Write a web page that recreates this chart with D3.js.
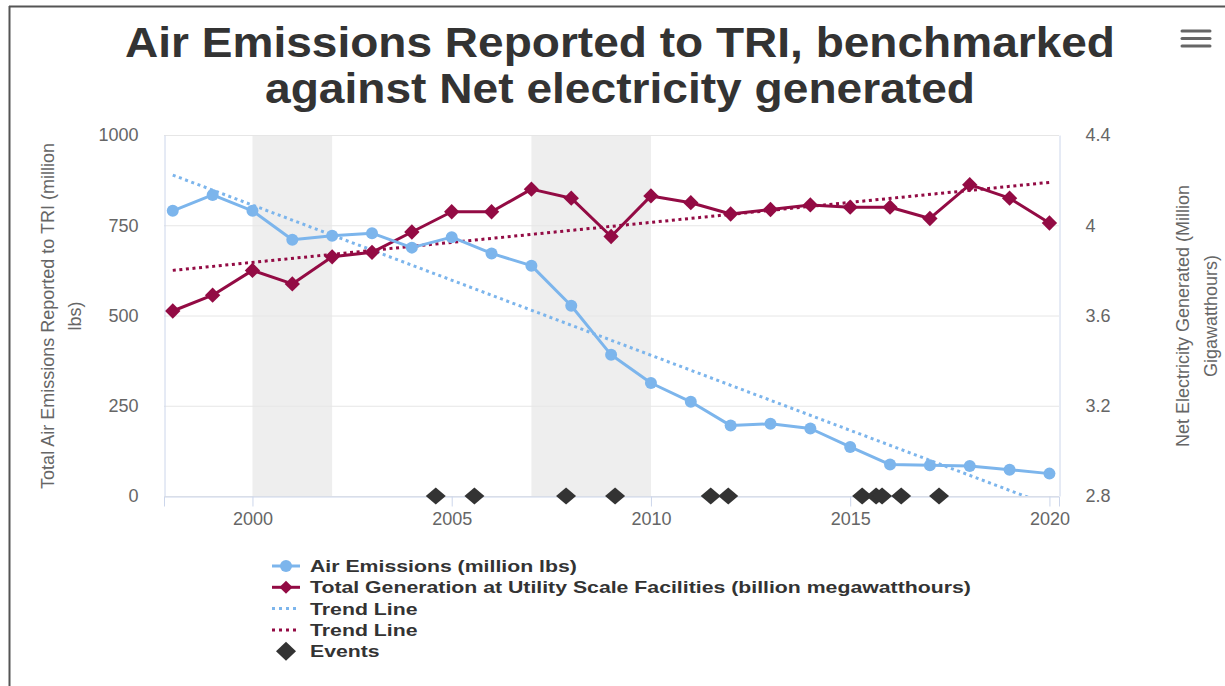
<!DOCTYPE html>
<html>
<head>
<meta charset="utf-8">
<script src="https://cdn.jsdelivr.net/npm/d3@7"></script>
<style>
  html, body { margin: 0; padding: 0; background: #fff; }
  svg { display: block; font-family: "Liberation Sans", Arial, Helvetica, sans-serif; }
</style>
</head>
<body>
<svg id="chart" width="1225" height="686"></svg>
<script>
// data
var years = [1998, 1999, 2000, 2001, 2002, 2003, 2004, 2005, 2006, 2007, 2008, 2009,
             2010, 2011, 2012, 2013, 2014, 2015, 2016, 2017, 2018, 2019, 2020];
var airEmissions = [790, 834, 790, 710, 721, 728, 688, 717, 672, 638, 527, 391,
                    313, 261, 195, 200, 187, 136, 87, 85, 83, 73, 62];
var generation = [3.62, 3.69, 3.80, 3.74, 3.86, 3.88, 3.97, 4.06, 4.06, 4.16, 4.12, 3.95,
                  4.13, 4.10, 4.05, 4.07, 4.09, 4.08, 4.08, 4.03, 4.18, 4.12, 4.01];
var trendYears = [1998, 2020];
var airTrend = [889, -26];
var genTrend = [3.80, 4.19];
var eventDates = [2004.6, 2005.57, 2007.87, 2009.1, 2011.5, 2011.94,
                  2015.3, 2015.65, 2015.8, 2016.28, 2017.23];
var bands = [[2000, 2002], [2007, 2010]];
var xTicks = [2000, 2005, 2010, 2015, 2020];
var leftTicks = [0, 250, 500, 750, 1000];
var rightTicks = [2.8, 3.2, 3.6, 4, 4.4];
var legendItems = ["Air Emissions (million lbs)",
                   "Total Generation at Utility Scale Facilities (billion megawatthours)",
                   "Trend Line", "Trend Line", "Events"];

var blue = "#7cb5ec", red = "#930b44", dark = "#333333";

var svg = d3.select("#chart");
var plot = {left: 164, right: 1059, top: 135, bottom: 496};

var x = d3.scaleLinear().domain([1997.78, 2020.24]).range([plot.left, plot.right]);
var yL = d3.scaleLinear().domain([0, 1000]).range([plot.bottom, plot.top]);
var yR = d3.scaleLinear().domain([2.8, 4.4]).range([plot.bottom, plot.top]);

// widen text a bit, the reference glyphs are broader than ours
function stretch(sel, k){
    sel.each(function(){
        var w = this.getComputedTextLength();
        d3.select(this).attr("textLength", w * k).attr("lengthAdjust", "spacingAndGlyphs");
    });
}

// frame of the screenshot
svg.append("line").attr("x1", 9).attr("x2", 1225).attr("y1", 6.5).attr("y2", 6.5)
    .attr("stroke", "#555").attr("stroke-width", 2);
svg.append("line").attr("x1", 9.5).attr("x2", 9.5).attr("y1", 6).attr("y2", 686)
    .attr("stroke", "#555").attr("stroke-width", 2);

// title
var title = svg.append("text").attr("text-anchor", "middle").attr("fill", dark)
    .attr("font-size", 43).attr("font-weight", "bold");
var t1 = title.append("tspan").attr("x", 620).attr("y", 57).text("Air Emissions Reported to TRI, benchmarked");
var t2 = title.append("tspan").attr("x", 620).attr("y", 103).text("against Net electricity generated");
t1.attr("textLength", 990).attr("lengthAdjust", "spacingAndGlyphs");
t2.attr("textLength", 710).attr("lengthAdjust", "spacingAndGlyphs");

// menu icon
[31, 38.5, 46].forEach(function(yy){
    svg.append("line").attr("x1", 1182).attr("x2", 1210).attr("y1", yy).attr("y2", yy)
        .attr("stroke", "#666").attr("stroke-width", 3).attr("stroke-linecap", "round");
});

// plot bands
svg.selectAll(".band").data(bands).enter().append("rect")
    .attr("x", function(d){ return x(d[0]); })
    .attr("width", function(d){ return x(d[1]) - x(d[0]); })
    .attr("y", plot.top).attr("height", plot.bottom - plot.top)
    .attr("fill", "#eeeeee");

// grid
svg.selectAll(".grid").data(leftTicks).enter().append("line")
    .attr("x1", plot.left).attr("x2", plot.right)
    .attr("y1", function(d){ return yL(d) + 0.5; }).attr("y2", function(d){ return yL(d) + 0.5; })
    .attr("stroke", "#e6e6e6").attr("stroke-width", 1);

// axes
var xAxis = d3.axisBottom(x).tickValues(xTicks).tickFormat(d3.format("d")).tickSize(10).tickPadding(6);
var gx = svg.append("g").attr("transform", "translate(0," + (plot.bottom + 0.5) + ")").call(xAxis);
gx.select(".domain").attr("stroke", "#ccd6eb");
gx.selectAll(".tick line").attr("stroke", "#ccd6eb");
gx.selectAll(".tick text").attr("fill", "#666").attr("font-size", 18).attr("font-family", null);

var gl = svg.append("g").attr("transform", "translate(" + (plot.left + 0.5) + ",0)")
    .call(d3.axisLeft(yL).tickValues(leftTicks).tickFormat(d3.format("d")).tickSize(0).tickPadding(26));
gl.select(".domain").attr("stroke", "#ccd6eb");
gl.selectAll(".tick text").attr("fill", "#666").attr("font-size", 18).attr("font-family", null);

var gr = svg.append("g").attr("transform", "translate(" + (plot.right + 0.5) + ",0)")
    .call(d3.axisRight(yR).tickValues(rightTicks).tickFormat(function(d){ return d3.format("")(d); }).tickSize(0).tickPadding(26));
gr.select(".domain").attr("stroke", "#ccd6eb");
gr.selectAll(".tick text").attr("fill", "#666").attr("font-size", 18).attr("font-family", null);

// axis titles
var lt = svg.append("text").attr("transform", "translate(54,316) rotate(-90)")
    .attr("text-anchor", "middle").attr("fill", "#666").attr("font-size", 18);
lt.append("tspan").attr("x", 0).attr("y", 0).text("Total Air Emissions Reported to TRI (million");
lt.append("tspan").attr("x", 0).attr("y", 27).text("lbs)");

var rt = svg.append("text").attr("transform", "translate(1189,316) rotate(-90)")
    .attr("text-anchor", "middle").attr("fill", "#666").attr("font-size", 18);
rt.append("tspan").attr("x", 0).attr("y", 0).text("Net Electricity Generated (Million");
rt.append("tspan").attr("x", 0).attr("y", 28).text("Gigawatthours)");

// clip for trend lines
svg.append("clipPath").attr("id", "plotclip").append("rect")
    .attr("x", plot.left).attr("y", plot.top)
    .attr("width", plot.right - plot.left).attr("height", plot.bottom - plot.top);

svg.append("path").attr("clip-path", "url(#plotclip)")
    .attr("d", d3.line().x(function(d, i){ return x(trendYears[i]); }).y(function(d){ return yL(d); })(airTrend))
    .attr("fill", "none").attr("stroke", blue).attr("stroke-width", 3).attr("stroke-dasharray", "3,3.6");
svg.append("path").attr("clip-path", "url(#plotclip)")
    .attr("d", d3.line().x(function(d, i){ return x(trendYears[i]); }).y(function(d){ return yR(d); })(genTrend))
    .attr("fill", "none").attr("stroke", red).attr("stroke-width", 3).attr("stroke-dasharray", "3,3.6");

// generation series
var genLine = d3.line().x(function(d, i){ return x(years[i]); }).y(function(d){ return yR(d); });
svg.append("path").attr("d", genLine(generation))
    .attr("fill", "none").attr("stroke", red).attr("stroke-width", 3).attr("stroke-linejoin", "round");
svg.selectAll(".gen").data(generation).enter().append("path")
    .attr("transform", function(d, i){ return "translate(" + x(years[i]) + "," + yR(d) + ")"; })
    .attr("d", d3.symbol(d3.symbolDiamond2, 150)).attr("fill", red);

// emissions series
var airLine = d3.line().x(function(d, i){ return x(years[i]); }).y(function(d){ return yL(d); });
svg.append("path").attr("d", airLine(airEmissions))
    .attr("fill", "none").attr("stroke", blue).attr("stroke-width", 3).attr("stroke-linejoin", "round");
svg.selectAll(".air").data(airEmissions).enter().append("circle")
    .attr("cx", function(d, i){ return x(years[i]); }).attr("cy", function(d){ return yL(d); })
    .attr("r", 6).attr("fill", blue);

// events
function diamond(w, h){
    return "M0," + (-h) + "L" + w + ",0L0," + h + "L" + (-w) + ",0Z";
}
svg.selectAll(".event").data(eventDates).enter().append("path")
    .attr("transform", function(d){ return "translate(" + x(d) + "," + yL(0) + ")"; })
    .attr("d", diamond(10, 8.5)).attr("fill", dark);

// legend
var lg = svg.append("g").attr("transform", "translate(272,566)");
legendItems.forEach(function(name, i){
    var row = lg.append("g").attr("transform", "translate(0," + (i * 21.3) + ")");
    if (i == 0){
        row.append("line").attr("x1", 0).attr("x2", 28).attr("stroke", blue).attr("stroke-width", 3);
        row.append("circle").attr("cx", 14).attr("r", 6).attr("fill", blue);
    } else if (i == 1){
        row.append("line").attr("x1", 0).attr("x2", 28).attr("stroke", red).attr("stroke-width", 3);
        row.append("path").attr("transform", "translate(14,0)").attr("d", d3.symbol(d3.symbolDiamond2, 110)).attr("fill", red);
    } else if (i == 4){
        row.append("path").attr("transform", "translate(14,0)").attr("d", diamond(10, 9.5)).attr("fill", dark);
    } else {
        row.append("line").attr("x1", 0).attr("x2", 26).attr("stroke", i == 2 ? blue : red)
            .attr("stroke-width", 3).attr("stroke-dasharray", "3,4");
    }
    var txt = row.append("text").attr("x", 38).attr("y", 6).attr("fill", dark)
        .attr("font-size", 17).attr("font-weight", "bold").text(name);
    stretch(txt, 1.25);
});
</script>
</body>
</html>
